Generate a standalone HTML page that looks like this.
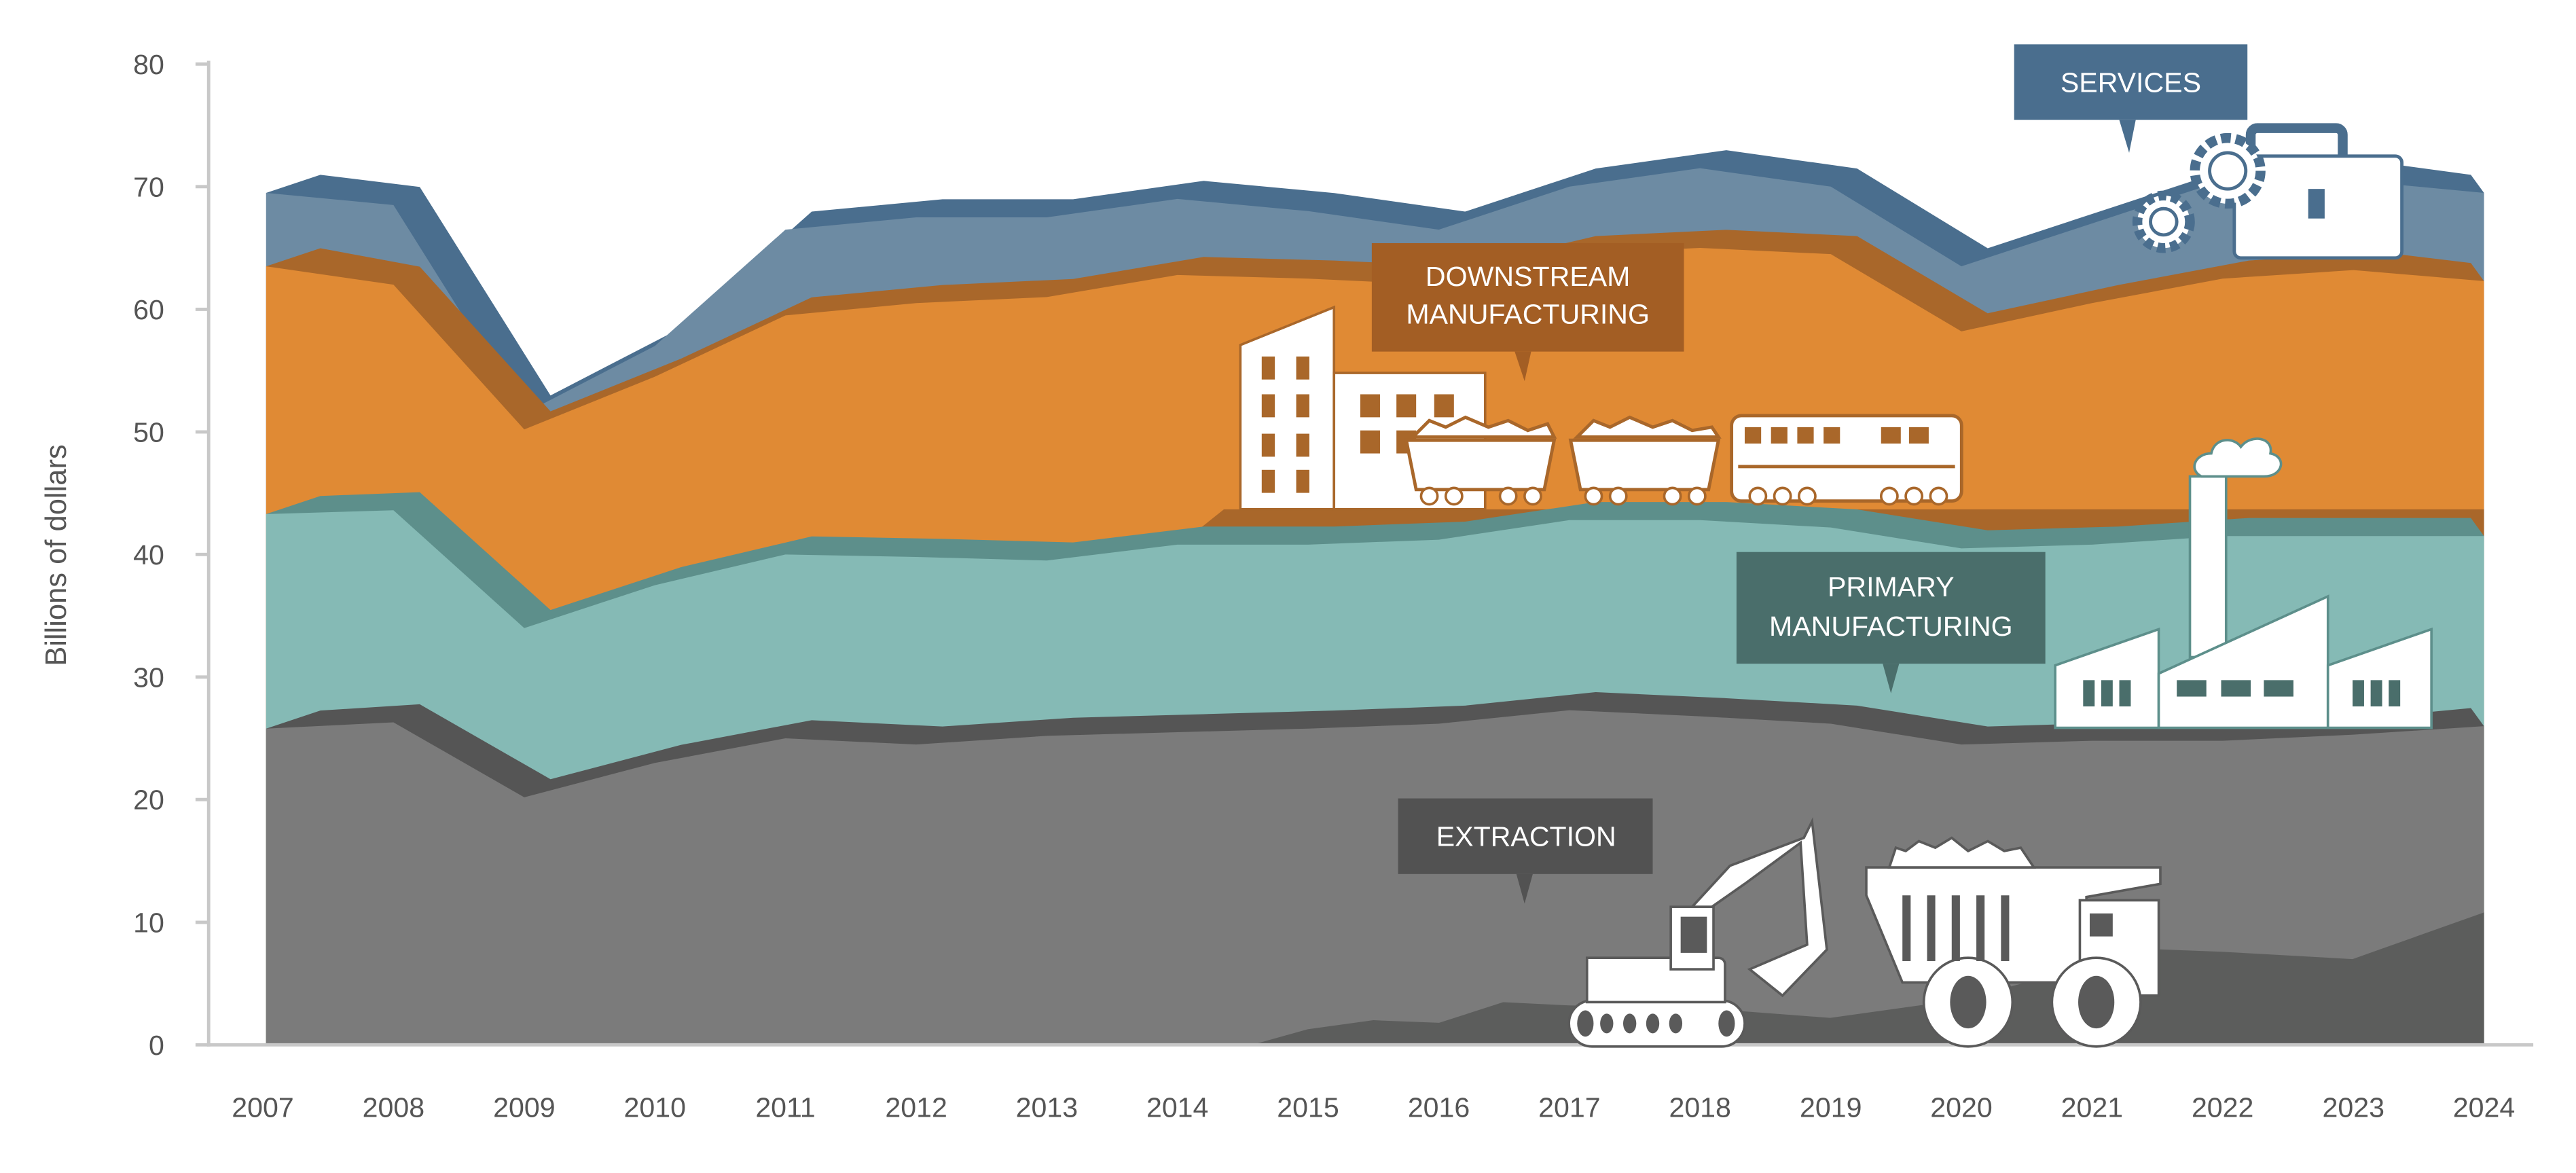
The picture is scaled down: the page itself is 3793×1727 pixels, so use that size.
<!DOCTYPE html>
<html><head><meta charset="utf-8"><style>
html,body{margin:0;padding:0;background:#fff}
svg{display:block}
text{font-family:"Liberation Sans",sans-serif}
</style></head><body>
<svg width="3793" height="1727" viewBox="0 0 1568 714" preserveAspectRatio="none" xmlns="http://www.w3.org/2000/svg">
<rect width="1568" height="714" fill="#fff"/>
<!-- services -->
<polygon fill="#4a6e8e" points="195,106.4 255.5,113.8 335.1,240.7 414.6,199.6 494.1,128.8 573.7,121.3 653.2,121.3 732.7,110.1 812.2,117.5 891.8,128.8 971.3,102.6 1050.8,91.4 1130.4,102.6 1209.9,151.1 1289.4,125 1368.9,98.9 1448.5,98.9 1504,106.4 1512,117.4 1512,636 162,636 162,117.4"/>
<polygon fill="#6d8ba3" points="162,117.4 239.5,124.8 319.1,251.7 398.6,210.6 478.1,139.8 557.7,132.3 637.2,132.3 716.7,121.1 796.2,128.5 875.8,139.8 955.3,113.6 1034.8,102.4 1114.4,113.6 1193.9,162.1 1273.4,136 1352.9,109.9 1432.5,109.9 1512,117.4 1512,636 162,636"/>
<!-- downstream -->
<polygon fill="#a9672a" points="195,151.1 255.5,162.3 335.1,250.4 414.6,218.3 494.1,181 573.7,173.5 653.2,169.8 732.7,156.4 812.2,158.6 891.8,162.3 971.3,143.7 1050.8,139.9 1130.4,143.7 1209.9,190.7 1289.4,173.5 1368.9,158.6 1448.5,153.4 1504,160.1 1512,171.1 1512,636 162,636 162,162.1"/>
<polygon fill="#e08a34" points="162,162.1 239.5,173.3 319.1,261.4 398.6,229.3 478.1,192 557.7,184.5 637.2,180.8 716.7,167.4 796.2,169.6 875.8,173.3 955.3,154.7 1034.8,150.9 1114.4,154.7 1193.9,201.7 1273.4,184.5 1352.9,169.6 1432.5,164.4 1512,171.1 1512,636 162,636"/>
<polygon fill="#a9672a" points="730,322 745,310 1512,310 1512,330 730,330"/>
<!-- primary -->
<polygon fill="#5d8f8b" points="195,301.9 255.5,299.6 335.1,371.3 414.6,345.2 494.1,326.5 573.7,328 653.2,330.2 732.7,320.5 812.2,320.5 891.8,317.5 971.3,305.6 1050.8,305.6 1130.4,310.1 1209.9,322.8 1289.4,320.5 1368.9,315.3 1448.5,315.3 1504,315.3 1512,326.3 1512,636 162,636 162,312.9"/>
<polygon fill="#85bab5" points="162,312.9 239.5,310.6 319.1,382.3 398.6,356.2 478.1,337.5 557.7,339 637.2,341.2 716.7,331.5 796.2,331.5 875.8,328.5 955.3,316.6 1034.8,316.6 1114.4,321.1 1193.9,333.8 1273.4,331.5 1352.9,326.3 1432.5,326.3 1512,326.3 1512,636 162,636"/>
<!-- extraction -->
<polygon fill="#555555" points="195,432.5 255.5,428.7 335.1,474.3 414.6,453.4 494.1,438.4 573.7,442.2 653.2,436.9 732.7,434.7 812.2,432.5 891.8,429.5 971.3,421.3 1050.8,425 1130.4,429.5 1209.9,442.2 1289.4,439.9 1368.9,439.9 1448.5,436.2 1504,431 1512,442 1512,636 162,636 162,443.5"/>
<polygon fill="#7b7b7b" points="162,443.5 239.5,439.7 319.1,485.3 398.6,464.4 478.1,449.4 557.7,453.2 637.2,447.9 716.7,445.7 796.2,443.5 875.8,440.5 955.3,432.3 1034.8,436 1114.4,440.5 1193.9,453.2 1273.4,450.9 1352.9,450.9 1432.5,447.2 1512,442 1512,636 162,636"/>
<polygon fill="#5c5d5c" points="762,636 796,626.5 836,621 876,622.6 915,610 955,612 1035,613.6 1114,619.6 1194,608.4 1273,587.5 1313,577.8 1352,579.3 1432,583.8 1512,555.4 1512,636"/>

<!-- axes -->
<line x1="127" y1="37" x2="127" y2="637" stroke="#c8c8c8" stroke-width="2"/>
<line x1="126" y1="636" x2="1542" y2="636" stroke="#c8c8c8" stroke-width="2"/>
<g stroke="#c8c8c8" stroke-width="2">
<line x1="119" x2="127" y1="636" y2="636"/><line x1="119" x2="127" y1="561.4" y2="561.4"/><line x1="119" x2="127" y1="486.7" y2="486.7"/><line x1="119" x2="127" y1="412.1" y2="412.1"/><line x1="119" x2="127" y1="337.5" y2="337.5"/><line x1="119" x2="127" y1="262.9" y2="262.9"/><line x1="119" x2="127" y1="188.3" y2="188.3"/><line x1="119" x2="127" y1="113.6" y2="113.6"/><line x1="119" x2="127" y1="39" y2="39"/>
</g>
<g font-size="17" fill="#555" text-anchor="end">
<text x="100" y="642">0</text><text x="100" y="567.4">10</text><text x="100" y="492.7">20</text><text x="100" y="418.1">30</text><text x="100" y="343.5">40</text><text x="100" y="268.9">50</text><text x="100" y="194.3">60</text><text x="100" y="119.6">70</text><text x="100" y="45">80</text>
</g>
<g font-size="17" fill="#555" text-anchor="middle">
<text x="160" y="680">2007</text><text x="239.5" y="680">2008</text><text x="319.1" y="680">2009</text><text x="398.6" y="680">2010</text><text x="478.1" y="680">2011</text><text x="557.7" y="680">2012</text><text x="637.2" y="680">2013</text><text x="716.7" y="680">2014</text><text x="796.2" y="680">2015</text><text x="875.8" y="680">2016</text><text x="955.3" y="680">2017</text><text x="1034.8" y="680">2018</text><text x="1114.4" y="680">2019</text><text x="1193.9" y="680">2020</text><text x="1273.4" y="680">2021</text><text x="1352.9" y="680">2022</text><text x="1432.5" y="680">2023</text><text x="1512" y="680">2024</text>
</g>
<text transform="translate(40,338) rotate(-90)" font-size="18" fill="#555" text-anchor="middle">Billions of dollars</text>

<!-- downstream factory & train -->
<g fill="#fff" stroke="#a9672a" stroke-width="1.5">
<polygon points="755,210 812,187 812,310 755,310"/>
<rect x="812" y="227" width="92" height="83"/>
</g>
<g fill="#a9672a">
<rect x="768" y="217" width="8" height="14"/><rect x="789" y="217" width="8" height="14"/>
<rect x="768" y="240" width="8" height="14"/><rect x="789" y="240" width="8" height="14"/>
<rect x="768" y="264" width="8" height="14"/><rect x="789" y="264" width="8" height="14"/>
<rect x="768" y="286" width="8" height="14"/><rect x="789" y="286" width="8" height="14"/>
<rect x="828" y="240" width="12" height="14"/><rect x="850" y="240" width="12" height="14"/><rect x="873" y="240" width="12" height="14"/>
<rect x="828" y="262" width="12" height="14"/><rect x="850" y="262" width="12" height="14"/>
</g>
<g fill="#fff" stroke="#a9672a" stroke-width="2">
<path d="M860,266 l10,-10 10,4 12,-6 14,6 12,-4 12,6 12,-4 4,8 z"/>
<polygon points="856,268 946,268 940,298 862,298"/>
<path d="M960,266 l10,-10 10,4 12,-6 14,6 12,-4 12,6 12,-2 4,6 z"/>
<polygon points="956,268 1046,268 1040,298 962,298"/>
<rect x="1054" y="253" width="140" height="52" rx="6"/>
</g>
<g fill="#fff" stroke="#a9672a" stroke-width="1.5">
<circle cx="870" cy="302" r="5"/><circle cx="885" cy="302" r="5"/><circle cx="918" cy="302" r="5"/><circle cx="933" cy="302" r="5"/>
<circle cx="970" cy="302" r="5"/><circle cx="985" cy="302" r="5"/><circle cx="1018" cy="302" r="5"/><circle cx="1033" cy="302" r="5"/>
<circle cx="1070" cy="302" r="5"/><circle cx="1085" cy="302" r="5"/><circle cx="1100" cy="302" r="5"/><circle cx="1150" cy="302" r="5"/><circle cx="1165" cy="302" r="5"/><circle cx="1180" cy="302" r="5"/>
</g>
<g fill="#a9672a"><rect x="1062" y="260" width="10" height="10"/><rect x="1078" y="260" width="10" height="10"/><rect x="1094" y="260" width="10" height="10"/><rect x="1110" y="260" width="10" height="10"/><rect x="1145" y="260" width="12" height="10"/><rect x="1162" y="260" width="12" height="10"/>
<rect x="1058" y="283" width="132" height="2"/></g>

<!-- primary factory -->
<g fill="#fff" stroke="#5d8f8b" stroke-width="1.5">
<rect x="1333" y="290" width="22" height="110"/>
<path d="M1340,290 c-8,-4 -4,-14 6,-14 c2,-10 14,-10 18,-4 c6,-8 20,-6 18,4 c10,2 8,14 -4,14 z"/>
<polygon points="1251,405 1314,383 1314,443 1251,443"/>
<polygon points="1314,410 1417,363 1417,443 1314,443"/>
<polygon points="1417,405 1480,383 1480,443 1417,443"/>
</g>
<g fill="#4a6e6b"><rect x="1268" y="414" width="7" height="16"/><rect x="1279" y="414" width="7" height="16"/><rect x="1290" y="414" width="7" height="16"/>
<rect x="1325" y="414" width="18" height="10"/><rect x="1352" y="414" width="18" height="10"/><rect x="1378" y="414" width="18" height="10"/>
<rect x="1432" y="414" width="7" height="16"/><rect x="1443" y="414" width="7" height="16"/><rect x="1454" y="414" width="7" height="16"/></g>

<!-- services briefcase & gears -->
<g fill="#fff" stroke="#4a6e8e" stroke-width="2">
<rect x="1370" y="78" width="56" height="22" rx="4" fill="none" stroke-width="6"/>
<rect x="1360" y="95" width="102" height="62" rx="4"/>
<circle cx="1356" cy="104" r="20" stroke-dasharray="6 3" stroke-width="6"/>
<circle cx="1356" cy="104" r="11"/>
<circle cx="1317" cy="135" r="16" stroke-dasharray="5 3" stroke-width="6"/>
<circle cx="1317" cy="135" r="8"/>
</g>
<rect x="1405" y="115" width="10" height="18" fill="#4a6e8e"/>

<!-- extraction equipment -->
<g fill="#fff" stroke="#5a5a5a" stroke-width="1.5">
<rect x="955" y="609" width="107" height="28" rx="14"/>
<rect x="990" y="595" width="25" height="14"/>
<path d="M966,583 h80 a4,4 0 0 1 4,4 v23 h-84 z"/>
<polygon points="1030,552 1053,527 1098,510 1103,500 1112,578 1085,606 1065,590 1100,575 1096,513 1062,538 1042,552"/>
<rect x="1017" y="552" width="26" height="38"/>
<polygon points="1136,528 1315,528 1315,538 1270,546 1270,598 1158,598 1136,545"/>
<path d="M1150,528 l4,-12 6,2 8,-6 10,4 10,-6 10,8 12,-6 10,6 10,-2 8,12 z"/>
<rect x="1266" y="548" width="48" height="58"/>
<ellipse cx="1198" cy="610" rx="27" ry="27"/>
<ellipse cx="1276" cy="610" rx="27" ry="27"/>
</g>
<g fill="#5a5a5a"><rect x="1023" y="558" width="16" height="22"/>
<rect x="1158" y="545" width="5" height="40"/><rect x="1173" y="545" width="5" height="40"/><rect x="1188" y="545" width="5" height="40"/><rect x="1203" y="545" width="5" height="40"/><rect x="1218" y="545" width="5" height="40"/>
<rect x="1272" y="556" width="14" height="14"/>
<ellipse cx="1198" cy="610" rx="11" ry="16"/><ellipse cx="1276" cy="610" rx="11" ry="16"/>
<ellipse cx="965" cy="623" rx="5" ry="8"/><ellipse cx="1051" cy="623" rx="5" ry="8"/>
<ellipse cx="978" cy="623" rx="4" ry="6"/><ellipse cx="992" cy="623" rx="4" ry="6"/><ellipse cx="1006" cy="623" rx="4" ry="6"/><ellipse cx="1020" cy="623" rx="4" ry="6"/></g>

<!-- labels -->
<g font-size="17" fill="#fff" text-anchor="middle">
<rect x="1226" y="27" width="142" height="46" fill="#4a6e8e"/><polygon points="1290,73 1300,73 1296,93" fill="#4a6e8e"/>
<text x="1297" y="56">SERVICES</text>
<rect x="835" y="148" width="190" height="66" fill="#a35e24"/><polygon points="922,214 932,214 928,232" fill="#a35e24"/>
<text x="930" y="174">DOWNSTREAM</text><text x="930" y="197">MANUFACTURING</text>
<rect x="1057" y="336" width="188" height="68" fill="#4a6e6b"/><polygon points="1146,404 1156,404 1151,422" fill="#4a6e6b"/>
<text x="1151" y="363">PRIMARY</text><text x="1151" y="387">MANUFACTURING</text>
<rect x="851" y="486" width="155" height="46" fill="#525252"/><polygon points="923,532 933,532 928,550" fill="#525252"/>
<text x="929" y="515">EXTRACTION</text>
</g>
</svg>
</body></html>
